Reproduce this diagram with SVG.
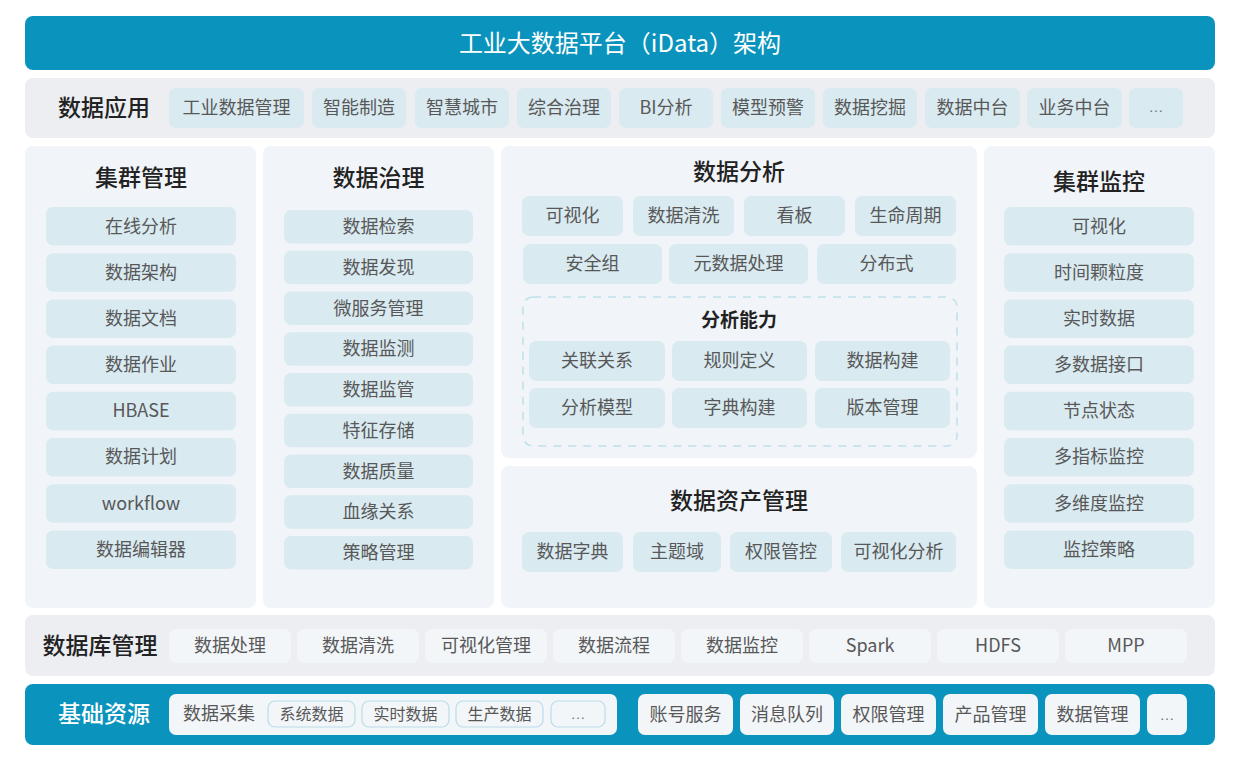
<svg xmlns="http://www.w3.org/2000/svg" width="1240" height="760" viewBox="0 0 1240 760">
<style>
text{font-family:"Noto Sans CJK SC","Liberation Sans",sans-serif;text-anchor:middle;dominant-baseline:central}
.bar{fill:#0a94bd}
.row{fill:#eceef2}
.panel{fill:#f1f5f9}
.chip{fill:#d9eaf1}
.lchip{fill:#f3f6f9}
.schip{fill:#f3f6f9;stroke:#b9dcea;stroke-width:1.2}
.ct{font-size:18px;fill:#585858}
.st{font-size:16px;fill:#585858}
.el{font-family:"Liberation Sans",sans-serif;font-size:15px;fill:#777}
.ttl{font-size:23px;fill:#222;font-weight:500}
.wt{font-size:23px;fill:#fff;font-weight:500}
.sub{font-size:19px;fill:#222;font-weight:700}
.dash{fill:none;stroke:#bfe0ec;stroke-width:1.5;stroke-dasharray:8 7}
</style>
<rect width="1240" height="760" fill="#fff"/>
<g id="title">
<rect class="bar" x="25" y="16" width="1190" height="54" rx="8"/>
<text x="620" y="41" style="font-size:24px;fill:#fff">工业大数据平台（iData）架构</text>
</g>
<g id="app">
<rect class="row" x="25" y="78" width="1190" height="60" rx="8"/>
<text class="ttl" x="104" y="106">数据应用</text>
<rect class="chip" x="169" y="88" width="135" height="40" rx="7"/><text class="ct" x="236.5" y="106">工业数据管理</text>
<rect class="chip" x="312" y="88" width="94" height="40" rx="7"/><text class="ct" x="359" y="106">智能制造</text>
<rect class="chip" x="415" y="88" width="94" height="40" rx="7"/><text class="ct" x="462" y="106">智慧城市</text>
<rect class="chip" x="517" y="88" width="94" height="40" rx="7"/><text class="ct" x="564" y="106">综合治理</text>
<rect class="chip" x="619" y="88" width="94" height="40" rx="7"/><text class="ct" x="666" y="106">BI分析</text>
<rect class="chip" x="721" y="88" width="94" height="40" rx="7"/><text class="ct" x="768" y="106">模型预警</text>
<rect class="chip" x="823" y="88" width="94" height="40" rx="7"/><text class="ct" x="870" y="106">数据挖掘</text>
<rect class="chip" x="925" y="88" width="95" height="40" rx="7"/><text class="ct" x="972.5" y="106">数据中台</text>
<rect class="chip" x="1027" y="88" width="95" height="40" rx="7"/><text class="ct" x="1074.5" y="106">业务中台</text>
<rect class="chip" x="1129" y="88" width="54" height="40" rx="7"/><text class="el" x="1156" y="106">…</text>
</g>
<g id="cluster-mgmt">
<rect class="panel" x="25" y="146" width="231" height="462" rx="8"/>
<text class="ttl" x="141" y="176">集群管理</text>
<rect class="chip" x="46" y="207" width="190" height="38.5" rx="7"/><text class="ct" x="141" y="224.5">在线分析</text>
<rect class="chip" x="46" y="253.2" width="190" height="38.5" rx="7"/><text class="ct" x="141" y="270.5">数据架构</text>
<rect class="chip" x="46" y="299.4" width="190" height="38.5" rx="7"/><text class="ct" x="141" y="316.7">数据文档</text>
<rect class="chip" x="46" y="345.6" width="190" height="38.5" rx="7"/><text class="ct" x="141" y="362.9">数据作业</text>
<rect class="chip" x="46" y="391.8" width="190" height="38.5" rx="7"/><text class="ct" x="141" y="409.1">HBASE</text>
<rect class="chip" x="46" y="438" width="190" height="38.5" rx="7"/><text class="ct" x="141" y="455.3">数据计划</text>
<rect class="chip" x="46" y="484.2" width="190" height="38.5" rx="7"/><text class="ct" x="141" y="501.5">workflow</text>
<rect class="chip" x="46" y="530.4" width="190" height="38.5" rx="7"/><text class="ct" x="141" y="547.7">数据编辑器</text>
</g>
<g id="governance">
<rect class="panel" x="263" y="146" width="231" height="462" rx="8"/>
<text class="ttl" x="378.5" y="176">数据治理</text>
<rect class="chip" x="284" y="210" width="189" height="33.5" rx="7"/><text class="ct" x="378.5" y="225">数据检索</text>
<rect class="chip" x="284" y="250.75" width="189" height="33.5" rx="7"/><text class="ct" x="378.5" y="265.7">数据发现</text>
<rect class="chip" x="284" y="291.5" width="189" height="33.5" rx="7"/><text class="ct" x="378.5" y="306.5">微服务管理</text>
<rect class="chip" x="284" y="332.25" width="189" height="33.5" rx="7"/><text class="ct" x="378.5" y="347.2">数据监测</text>
<rect class="chip" x="284" y="373" width="189" height="33.5" rx="7"/><text class="ct" x="378.5" y="388">数据监管</text>
<rect class="chip" x="284" y="413.75" width="189" height="33.5" rx="7"/><text class="ct" x="378.5" y="428.7">特征存储</text>
<rect class="chip" x="284" y="454.5" width="189" height="33.5" rx="7"/><text class="ct" x="378.5" y="469.5">数据质量</text>
<rect class="chip" x="284" y="495.25" width="189" height="33.5" rx="7"/><text class="ct" x="378.5" y="510.2">血缘关系</text>
<rect class="chip" x="284" y="536" width="189" height="33.5" rx="7"/><text class="ct" x="378.5" y="551">策略管理</text>
</g>
<g id="analysis">
<rect class="panel" x="501" y="146" width="476" height="312" rx="8"/>
<text class="ttl" x="739" y="170">数据分析</text>
<rect class="chip" x="522" y="196" width="101" height="40" rx="7"/><text class="ct" x="572.5" y="214">可视化</text>
<rect class="chip" x="633" y="196" width="101" height="40" rx="7"/><text class="ct" x="683.5" y="214">数据清洗</text>
<rect class="chip" x="744" y="196" width="101" height="40" rx="7"/><text class="ct" x="794.5" y="214">看板</text>
<rect class="chip" x="855" y="196" width="101" height="40" rx="7"/><text class="ct" x="905.5" y="214">生命周期</text>
<rect class="chip" x="523" y="244" width="139" height="40" rx="7"/><text class="ct" x="592.5" y="262">安全组</text>
<rect class="chip" x="669" y="244" width="139" height="40" rx="7"/><text class="ct" x="738.5" y="262">元数据处理</text>
<rect class="chip" x="817" y="244" width="139" height="40" rx="7"/><text class="ct" x="886.5" y="262">分布式</text>
</g>
<g id="analysis-capability">
<rect class="dash" x="523" y="297" width="434" height="149" rx="10"/>
<text class="sub" x="739" y="318">分析能力</text>
<rect class="chip" x="529" y="341" width="136" height="40" rx="7"/><text class="ct" x="597" y="359">关联关系</text>
<rect class="chip" x="672" y="341" width="135" height="40" rx="7"/><text class="ct" x="739.5" y="359">规则定义</text>
<rect class="chip" x="815" y="341" width="135" height="40" rx="7"/><text class="ct" x="882.5" y="359">数据构建</text>
<rect class="chip" x="529" y="388" width="136" height="40" rx="7"/><text class="ct" x="597" y="406">分析模型</text>
<rect class="chip" x="672" y="388" width="135" height="40" rx="7"/><text class="ct" x="739.5" y="406">字典构建</text>
<rect class="chip" x="815" y="388" width="135" height="40" rx="7"/><text class="ct" x="882.5" y="406">版本管理</text>
</g>
<g id="asset">
<rect class="panel" x="501" y="466" width="476" height="142" rx="8"/>
<text class="ttl" x="739" y="499">数据资产管理</text>
<rect class="chip" x="522" y="532" width="101" height="40" rx="7"/><text class="ct" x="572.5" y="550">数据字典</text>
<rect class="chip" x="633" y="532" width="88" height="40" rx="7"/><text class="ct" x="677" y="550">主题域</text>
<rect class="chip" x="730" y="532" width="102" height="40" rx="7"/><text class="ct" x="781" y="550">权限管控</text>
<rect class="chip" x="841" y="532" width="115" height="40" rx="7"/><text class="ct" x="898.5" y="550">可视化分析</text>
</g>
<g id="cluster-monitor">
<rect class="panel" x="984" y="146" width="231" height="462" rx="8"/>
<text class="ttl" x="1099" y="180">集群监控</text>
<rect class="chip" x="1004" y="207" width="190" height="38.5" rx="7"/><text class="ct" x="1099" y="224.5">可视化</text>
<rect class="chip" x="1004" y="253.2" width="190" height="38.5" rx="7"/><text class="ct" x="1099" y="270.5">时间颗粒度</text>
<rect class="chip" x="1004" y="299.4" width="190" height="38.5" rx="7"/><text class="ct" x="1099" y="316.7">实时数据</text>
<rect class="chip" x="1004" y="345.6" width="190" height="38.5" rx="7"/><text class="ct" x="1099" y="362.9">多数据接口</text>
<rect class="chip" x="1004" y="391.8" width="190" height="38.5" rx="7"/><text class="ct" x="1099" y="409.1">节点状态</text>
<rect class="chip" x="1004" y="438" width="190" height="38.5" rx="7"/><text class="ct" x="1099" y="455.3">多指标监控</text>
<rect class="chip" x="1004" y="484.2" width="190" height="38.5" rx="7"/><text class="ct" x="1099" y="501.5">多维度监控</text>
<rect class="chip" x="1004" y="530.4" width="190" height="38.5" rx="7"/><text class="ct" x="1099" y="547.7">监控策略</text>
</g>
<g id="database">
<rect class="row" x="25" y="615" width="1190" height="61" rx="8"/>
<text class="ttl" x="100" y="644">数据库管理</text>
<rect class="lchip" x="169" y="629" width="122" height="34" rx="7"/><text class="ct" x="230" y="644">数据处理</text>
<rect class="lchip" x="297" y="629" width="122" height="34" rx="7"/><text class="ct" x="358" y="644">数据清洗</text>
<rect class="lchip" x="425" y="629" width="122" height="34" rx="7"/><text class="ct" x="486" y="644">可视化管理</text>
<rect class="lchip" x="553" y="629" width="122" height="34" rx="7"/><text class="ct" x="614" y="644">数据流程</text>
<rect class="lchip" x="681" y="629" width="122" height="34" rx="7"/><text class="ct" x="742" y="644">数据监控</text>
<rect class="lchip" x="809" y="629" width="122" height="34" rx="7"/><text class="ct" x="870" y="644">Spark</text>
<rect class="lchip" x="937" y="629" width="122" height="34" rx="7"/><text class="ct" x="998" y="644">HDFS</text>
<rect class="lchip" x="1065" y="629" width="122" height="34" rx="7"/><text class="ct" x="1126" y="644">MPP</text>
</g>
<g id="base">
<rect class="bar" x="25" y="684" width="1190" height="61" rx="8"/>
<text class="wt" x="104" y="712">基础资源</text>
<rect class="lchip" x="169" y="694" width="448" height="41" rx="7"/>
<text class="ct" x="219" y="712">数据采集</text>
<rect class="schip" x="268" y="701" width="87" height="26" rx="7"/><text class="st" x="311.5" y="712.5">系统数据</text>
<rect class="schip" x="362" y="701" width="87" height="26" rx="7"/><text class="st" x="405.5" y="712.5">实时数据</text>
<rect class="schip" x="456" y="701" width="87" height="26" rx="7"/><text class="st" x="499.5" y="712.5">生产数据</text>
<rect class="schip" x="551" y="701" width="54" height="26" rx="7"/><text class="el" x="578" y="713">…</text>
<rect class="lchip" x="638" y="694" width="95" height="41" rx="7"/><text class="ct" x="685.5" y="712.5">账号服务</text>
<rect class="lchip" x="740" y="694" width="94" height="41" rx="7"/><text class="ct" x="787" y="712.5">消息队列</text>
<rect class="lchip" x="841" y="694" width="95" height="41" rx="7"/><text class="ct" x="888.5" y="712.5">权限管理</text>
<rect class="lchip" x="943" y="694" width="95" height="41" rx="7"/><text class="ct" x="990.5" y="712.5">产品管理</text>
<rect class="lchip" x="1045" y="694" width="95" height="41" rx="7"/><text class="ct" x="1092.5" y="712.5">数据管理</text>
<rect class="lchip" x="1147" y="694" width="40" height="41" rx="7"/><text class="el" x="1167" y="714">…</text>
</g>
<g id="connectors"/>
</svg>
